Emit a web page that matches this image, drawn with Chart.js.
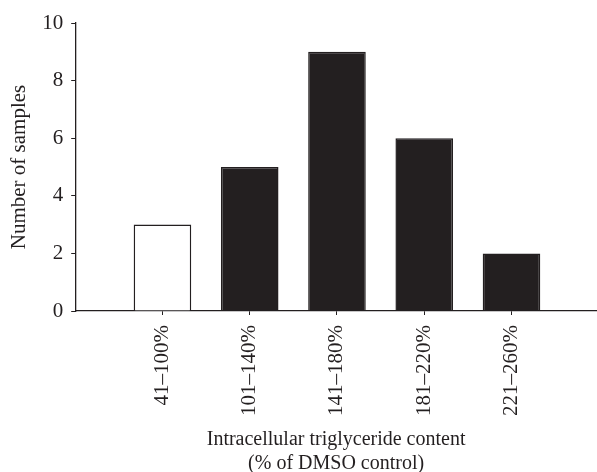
<!DOCTYPE html>
<html>
<head>
<meta charset="utf-8">
<script src="https://cdn.jsdelivr.net/npm/chart.js@4.4.0/dist/chart.umd.min.js"></script>
<style>
  html, body { margin: 0; padding: 0; background: #fff; }
  #wrap { width: 597px; height: 472px; }
</style>
</head>
<body>
<div id="wrap"><canvas id="histChart"></canvas></div>
<script>
// Données
const categories = ['41\u2013100%', '101\u2013140%', '141\u2013180%', '181\u2013220%', '221\u2013260%'];
const sampleCounts = [3, 5, 9, 6, 2];
const barColors = ['#ffffff', '#231f20', '#231f20', '#231f20', '#231f20'];
const yTicks = [0, 2, 4, 6, 8, 10];

const ink = '#231f20';
const serif = '"Liberation Serif", "DejaVu Serif", serif';

// Position de chaque classe sur un axe linéaire (1..5)
const points = sampleCounts.map((v, i) => ({ x: i + 1, y: v }));

new Chart(document.getElementById('histChart').getContext('2d'), {
    type: 'bar',
    data: {
        datasets: [{
            data: points,
            backgroundColor: barColors,
            borderColor: ink,
            borderWidth: 1.5,
            categoryPercentage: 1,
            barPercentage: 0.66
        }]
    },
    options: {
        responsive: true,
        maintainAspectRatio: false,
        animation: { duration: 0 },
        layout: { padding: { top: 23, right: 0, left: 7, bottom: -4 } },
        plugins: {
            legend: { display: false },
            tooltip: { enabled: false }
        },
        scales: {
            x: {
                type: 'linear',
                offset: false,
                min: 0,
                max: 5.98,
                afterBuildTicks: (axis) => {
                    axis.ticks = categories.map((c, i) => ({ value: i + 1 }));
                },
                ticks: {
                    minRotation: 90,
                    maxRotation: 90,
                    color: ink,
                    font: { family: serif, size: 21 },
                    padding: 10,
                    callback: (value) => categories[value - 1] || ''
                },
                grid: {
                    offset: false,
                    drawOnChartArea: false,
                    drawTicks: true,
                    tickLength: 4,
                    color: ink
                },
                border: { display: true, color: ink, width: 1.3 },
                title: {
                    display: true,
                    text: ['Intracellular triglyceride content', '(% of DMSO control)'],
                    color: ink,
                    font: { family: serif, size: 20, lineHeight: 1.2 },
                    padding: { top: 2, bottom: 0 }
                }
            },
            y: {
                min: 0,
                max: 10,
                afterBuildTicks: (axis) => {
                    axis.ticks = yTicks.map(v => ({ value: v }));
                },
                ticks: {
                    color: ink,
                    font: { family: serif, size: 21 },
                    padding: 8
                },
                grid: {
                    drawOnChartArea: false,
                    drawTicks: true,
                    tickLength: 4,
                    color: ink
                },
                border: { display: true, color: ink, width: 1.3 },
                title: {
                    display: true,
                    text: 'Number of samples',
                    color: ink,
                    font: { family: serif, size: 21 },
                    padding: { top: 0, bottom: 2 }
                }
            }
        }
    }
});
</script>
</body>
</html>
